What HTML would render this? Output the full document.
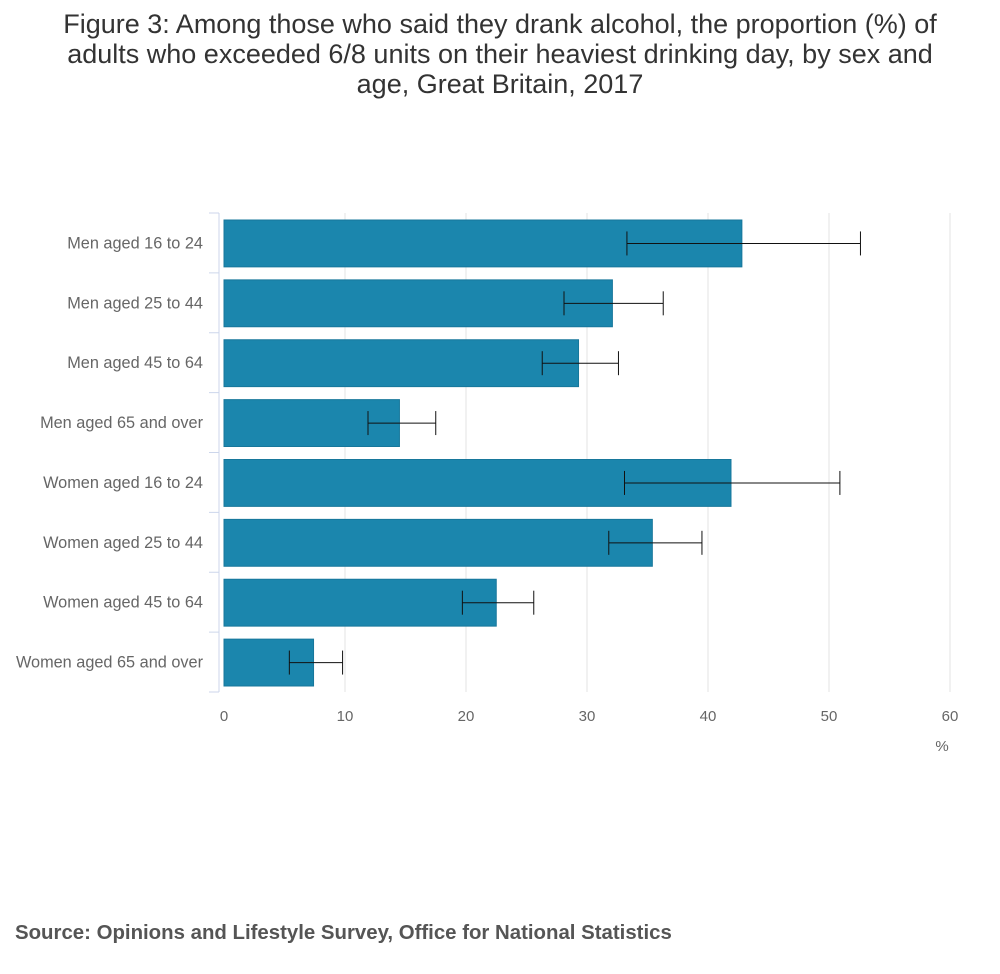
<!DOCTYPE html>
<html><head><meta charset="utf-8"><style>
body{margin:0;background:#fff;font-family:"Liberation Sans",sans-serif;}
#wrap{position:relative;width:1000px;height:974px;}
#title{position:absolute;left:55px;width:890px;top:9px;text-align:center;font-size:27px;line-height:30px;color:#333;}
#src{position:absolute;left:15px;top:922px;font-size:20.4px;font-weight:bold;color:#555;}
</style></head><body>
<div id="wrap">
<div id="title">Figure 3: Among those who said they drank alcohol, the proportion (%) of adults who exceeded 6/8 units on their heaviest drinking day, by sex and age, Great Britain, 2017</div>
<svg id="chart" width="1000" height="974" style="position:absolute;left:0;top:0"></svg>
<div id="src">Source: Opinions and Lifestyle Survey, Office for National Statistics</div>
</div>
<script>
const categories=["Men aged 16 to 24","Men aged 25 to 44","Men aged 45 to 64","Men aged 65 and over","Women aged 16 to 24","Women aged 25 to 44","Women aged 45 to 64","Women aged 65 and over"];
const values=[42.8,32.1,29.3,14.5,41.9,35.4,22.5,7.4];
const lower=[33.3,28.1,26.3,11.9,33.1,31.8,19.7,5.4];
const upper=[52.6,36.3,32.6,17.5,50.9,39.5,25.6,9.8];
const ticks=[0,10,20,30,40,50,60];
const NS="http://www.w3.org/2000/svg";
const svg=document.getElementById('chart');
const x0=224,x1=950,yTop=213,yBot=692;
const band=(yBot-yTop)/categories.length;
const xs=v=>x0+(v-0)/(60-0)*(x1-x0);
const yb=i=>yTop+i*band;
function mk(t,a){const e=document.createElementNS(NS,t);for(const k in a)e.setAttribute(k,a[k]);svg.appendChild(e);return e;}
ticks.forEach(t=>{
  if(t>0){const g=mk('line',{x1:xs(t),x2:xs(t),y1:yTop,y2:yBot,stroke:'#e3e3e3','stroke-width':1});
  
  }
  const l=mk('text',{x:xs(t),y:721,'text-anchor':'middle','font-size':15,fill:'#666'});l.textContent=t;
  
  
});
const u=mk('text',{x:942,y:751,'text-anchor':'middle','font-size':15,fill:'#666'});u.textContent='%';


const ax=mk('line',{x1:219,x2:219,y1:yTop,y2:yBot,stroke:'#ccd6eb','stroke-width':1});


for(let i=0;i<=categories.length;i++){const tk=mk('line',{x1:209,x2:219,y1:yb(i),y2:yb(i),stroke:'#ccd6eb'});

}
categories.forEach((c,i)=>{
  const top=yb(i)+7,h=band-13,cy=yb(i)+band/2+0.5;
  const r=mk('rect',{x:xs(0),y:top,width:xs(values[i])-xs(0),height:h,fill:'#1b86ad',stroke:'#17779b','stroke-width':1});
  
  
  const t=mk('text',{x:203,y:cy+5,'text-anchor':'end','font-size':16.3,fill:'#666'});t.textContent=c;
  
  
  const g=document.createElementNS(NS,'g');svg.appendChild(g);
  
  
  [[xs(lower[i]),cy,xs(upper[i]),cy],[xs(lower[i]),cy-12,xs(lower[i]),cy+12],[xs(upper[i]),cy-12,xs(upper[i]),cy+12]].forEach(p=>{
    const l=document.createElementNS(NS,'line');
    l.setAttribute('x1',p[0]);l.setAttribute('y1',p[1]);l.setAttribute('x2',p[2]);l.setAttribute('y2',p[3]);
    l.setAttribute('stroke','#111');l.setAttribute('stroke-width','1');g.appendChild(l);
  });
});
</script>
</body></html>
